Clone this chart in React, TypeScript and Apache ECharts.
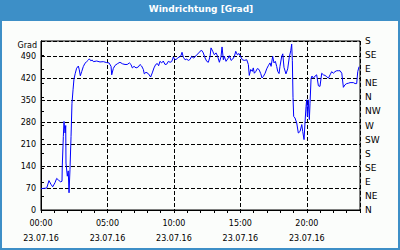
import React, { useEffect, useRef } from "react";
import * as echarts from "echarts";

// time of day in decimal hours (23.07.16)
const hours = [
  0, 0.17, 0.43, 0.6, 0.75, 0.88, 1.05, 1.18, 1.33, 1.48, 1.58, 1.6, 1.68, 1.73, 1.81, 1.86, 1.88, 1.98, 2.05, 2.11,
  2.18, 2.26, 2.33, 2.41, 2.48, 2.58, 2.68, 2.81, 2.88, 2.96, 3.06, 3.18, 3.31, 3.44, 3.56, 3.64, 3.74, 3.86, 3.94,
  4.19, 4.44, 4.69, 4.94, 5.12, 5.27, 5.32, 5.44, 5.57, 5.77, 5.94, 6.14, 6.32, 6.49, 6.65, 6.77, 6.87, 7.0, 7.15,
  7.32, 7.45, 7.57, 7.7, 7.77, 7.9, 8.07, 8.25, 8.37, 8.5, 8.63, 8.75, 8.85, 8.95, 9.08, 9.2, 9.33, 9.46, 9.58, 9.71,
  9.83, 9.96, 10.03, 10.16, 10.28, 10.41, 10.53, 10.61, 10.71, 10.84, 10.96, 11.09, 11.21, 11.34, 11.46, 11.59,
  11.71, 11.84, 11.96, 12.09, 12.21, 12.34, 12.47, 12.59, 12.72, 12.79, 12.92, 13.04, 13.17, 13.29, 13.42, 13.54,
  13.62, 13.72, 13.79, 13.92, 14.05, 14.17, 14.3, 14.42, 14.55, 14.65, 14.77, 14.9, 15.03, 15.15, 15.3, 15.48, 15.6,
  15.67, 15.78, 15.9, 15.97, 16.05, 16.15, 16.28, 16.4, 16.53, 16.63, 16.73, 16.86, 16.98, 17.1, 17.23, 17.31, 17.43,
  17.53, 17.63, 17.73, 17.81, 17.91, 17.98, 18.11, 18.19, 18.28, 18.43, 18.56, 18.68, 18.79, 18.86, 18.91, 18.96,
  19.01, 19.11, 19.24, 19.36, 19.49, 19.62, 19.69, 19.79, 19.86, 19.94, 19.99, 20.04, 20.11, 20.19, 20.24, 20.32,
  20.39, 20.49, 20.62, 20.74, 20.87, 20.99, 21.12, 21.24, 21.37, 21.5, 21.62, 21.75, 21.87, 21.99, 22.12, 22.25,
  22.37, 22.5, 22.63, 22.75, 22.87, 23.0, 23.12, 23.25, 23.5, 23.63, 23.75, 23.83, 23.93,
];

// wind direction in degrees
const degrees = [
  68, 69, 70, 94, 82, 74, 87, 101, 95, 90, 92, 140, 235, 283, 246, 270, 150, 108, 125, 55,
  129, 235, 341, 384, 418, 437, 453, 460, 448, 429, 442, 458, 469, 474, 479, 483, 477, 479, 474,
  476, 473, 474, 471, 470, 459, 432, 452, 462, 468, 472, 467, 465, 465, 470, 465, 454, 459, 454,
  457, 465, 460, 449, 435, 440, 436, 425, 438, 454, 465, 468, 461, 475, 470, 476, 465, 466, 475, 472,
  474, 489, 483, 480, 486, 489, 493, 504, 488, 480, 482, 478, 481, 491, 486, 489,
  496, 500, 507, 510, 502, 486, 475, 472, 491, 518, 507, 496, 502, 491, 472, 489,
  521, 480, 491, 475, 483, 493, 478, 482, 491, 507, 496, 500, 489, 480, 478, 480, 465,
  430, 449, 443, 454, 437, 442, 452, 449, 436, 422, 427, 437, 451, 461, 470, 459, 491,
  470, 475, 459, 443, 436, 459, 491, 499, 456, 435, 451, 488, 509, 530, 477, 360,
  299, 294, 278, 246, 251, 273, 251, 225, 278, 331, 352, 299, 352, 289, 341, 421,
  428, 421, 428, 432, 397, 395, 437, 432, 430, 426, 421, 432, 442, 437, 442, 445,
  445, 445, 437, 392, 400, 404, 405, 407, 407, 404, 404, 442, 458,
];

const compassLabels = ["N", "NE", "E", "SE", "S", "SW", "W", "NW", "N", "NE", "E", "SE", "S"];
const dateLabel = "23.07.16";
const titleText = "Windrichtung [Grad]";
const yAxisName = "Grad";

const FONT = "DejaVu Sans";

export default function App() {
  const ref = useRef<HTMLDivElement>(null);

  useEffect(() => {
    document.body.style.margin = "0";
    if (!ref.current) return;
    const chart = echarts.init(ref.current, null, { renderer: "svg" });
    const data = hours.map((h, i) => [h, degrees[i]]);
    const pad = (n: number) => (n < 10 ? "0" + n : "" + n);

    chart.setOption({
      animation: false,
      backgroundColor: "#fbfdfb",
      textStyle: { fontFamily: FONT },
      graphic: [
        { type: "rect", shape: { x: 0, y: 0, width: 400, height: 21 }, style: { fill: "#3d8fc7" }, silent: true },
        {
          type: "rect",
          shape: { x: 1, y: 1, width: 398, height: 248 },
          style: { fill: "none", stroke: "#3d8fc7", lineWidth: 2 },
          silent: true,
        },
        {
          type: "text",
          x: 201,
          y: 9,
          style: {
            text: titleText,
            fill: "#ffffff",
            font: `bold 9px "${FONT}"`,
            textAlign: "center",
            textVerticalAlign: "middle",
          },
        },
        {
          type: "text",
          x: 37,
          y: 45,
          style: {
            text: yAxisName,
            fill: "#000000",
            font: `8px "${FONT}"`,
            textAlign: "right",
            textVerticalAlign: "middle",
          },
        },
      ],
      grid: {
        left: 41,
        right: 40,
        top: 41,
        bottom: 40,
        show: true,
        borderColor: "#000",
        borderWidth: 1,
        backgroundColor: "transparent",
      },
      xAxis: [
        {
          type: "value",
          min: 0,
          max: 24,
          interval: 1,
          position: "bottom",
          axisLine: { show: true, lineStyle: { color: "#000", width: 1 } },
          axisTick: { show: true, length: 3, lineStyle: { color: "#000" } },
          splitLine: { show: false },
          axisLabel: {
            color: "#000",
            fontFamily: FONT,
            fontSize: 8,
            lineHeight: 15,
            margin: 6,
            formatter: (v: number) => (v % 5 === 0 && v < 24 ? `${pad(v)}:00\n${dateLabel}` : ""),
          },
        },
        {
          type: "value",
          min: 0,
          max: 24,
          interval: 5,
          position: "bottom",
          axisLine: { show: false },
          axisTick: { show: false },
          axisLabel: { show: false },
          splitLine: { show: true, lineStyle: { color: "#000", type: [4, 2], width: 1 } },
        },
      ],
      yAxis: [
        {
          type: "value",
          min: 0,
          max: 540,
          interval: 70,
          position: "left",
          axisLine: { show: true, lineStyle: { color: "#000", width: 1 } },
          axisTick: { show: false },
          splitLine: { show: true, lineStyle: { color: "#000", type: [4, 2], width: 1 } },
          axisLabel: {
            color: "#000",
            fontFamily: FONT,
            fontSize: 8,
            margin: 5,
            formatter: (v: number) => (v <= 490 ? String(v) : ""),
          },
        },
        {
          type: "value",
          min: 0,
          max: 540,
          interval: 45,
          position: "right",
          axisLine: { show: true, lineStyle: { color: "#000", width: 1 } },
          axisTick: { show: true, length: 3, lineStyle: { color: "#000" } },
          splitLine: { show: false },
          axisLabel: {
            color: "#000",
            fontFamily: FONT,
            fontSize: 9,
            margin: 5,
            formatter: (v: number) => compassLabels[Math.round(v / 45)] ?? "",
          },
        },
      ],
      series: [
        {
          type: "line",
          xAxisIndex: 0,
          yAxisIndex: 0,
          data,
          symbol: "none",
          showSymbol: false,
          lineStyle: { color: "#0000ff", width: 1 },
          z: 3,
        },
      ],
    });

    return () => chart.dispose();
  }, []);

  return <div ref={ref} style={{ width: 400, height: 250 }} />;
}
